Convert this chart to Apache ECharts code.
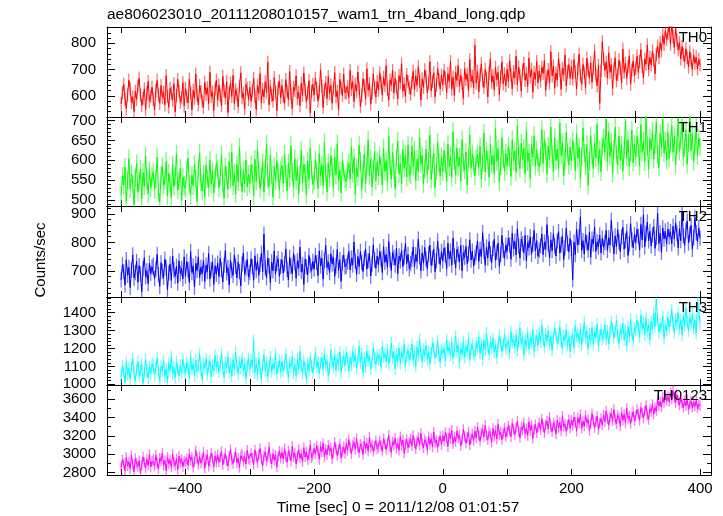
<!DOCTYPE html>
<html><head><meta charset="utf-8">
<script src="https://cdn.jsdelivr.net/npm/echarts@6/dist/echarts.min.js"></script>
<style>html,body{margin:0;padding:0;background:#fff}#c{width:723px;height:516px}</style>
</head><body><div id="c"></div>
<script>
// ---------------- DATA ----------------
const chartTitle = 'ae806023010_20111208010157_wam1_trn_4band_long.qdp';
const xTitle = 'Time [sec] 0 = 2011/12/08 01:01:57';
const yTitle = 'Counts/sec';
const bandNames = ['TH0', 'TH1', 'TH2', 'TH3', 'TH0123'];
const tStart = -500, tStep = 2;   // time bins (sec)

const th0 = [
570,612,645,589,552,603,660,628,575,596,541,618,587,637,668,604,563,590,627,549,611,655,580,598,633,
587,548,621,659,604,572,640,595,613,566,677,598,557,629,611,584,646,539,602,663,618,576,593,650,561,
629,597,574,664,612,548,621,590,683,603,566,639,617,580,556,652,606,631,571,690,598,615,545,627,660,
584,641,603,563,675,620,592,654,537,612,649,598,678,571,623,606,559,637,688,594,611,552,643,628,586,
632,580,619,667,598,548,641,609,685,574,625,596,654,613,728,566,637,602,581,670,615,544,629,657,593,
640,599,571,662,618,585,693,607,552,633,621,676,590,614,563,648,602,687,626,577,611,658,535,619,644,
603,667,628,581,614,699,636,556,622,651,590,674,609,641,572,628,689,597,618,548,663,630,601,683,612,
612,636,594,697,625,654,578,645,617,691,629,560,603,666,638,589,703,622,647,570,611,684,632,596,655,
622,688,651,603,671,639,715,626,584,660,643,697,612,668,634,589,677,650,722,618,646,598,681,655,630,
607,650,694,623,676,640,711,657,584,665,633,699,672,612,648,730,620,655,688,596,641,705,663,627,679,
642,697,668,613,685,654,731,626,671,602,690,659,716,637,679,648,591,704,663,683,620,738,656,675,632,
792,649,694,615,678,722,657,633,701,669,596,687,741,652,676,624,709,661,690,605,673,728,646,684,638,
701,655,734,680,627,693,668,751,642,710,676,619,698,725,659,687,636,744,671,702,614,689,663,731,650,
694,656,709,686,735,622,672,700,649,768,676,713,631,688,660,742,697,625,705,681,756,638,692,719,667,
712,664,738,691,626,703,759,677,645,720,688,631,744,699,668,726,652,705,771,680,639,716,572,695,806,
741,697,729,668,764,690,719,627,702,745,658,681,736,706,650,778,689,724,667,711,752,645,698,733,676,
706,752,689,731,776,712,668,740,721,793,699,747,718,770,736,684,759,790,745,803,771,832,796,848,815,
838,868,797,873,825,784,856,812,775,803,741,788,757,729,779,746,710,768,737,701,755,724,748,703,739,
718];

const th1 = [
512,561,538,583,497,549,604,527,566,541,489,556,592,520,547,578,503,569,535,611,548,515,574,531,558,
571,526,553,608,519,495,562,584,537,550,598,511,567,543,506,589,534,560,616,525,548,580,499,557,536,
529,574,605,541,512,563,536,590,552,497,578,619,545,524,566,508,587,553,531,601,540,572,518,556,593,
578,530,559,614,543,505,584,562,527,597,551,620,536,568,515,589,546,633,557,521,574,541,600,533,565,
540,589,566,511,603,547,628,573,529,558,595,520,579,641,551,534,612,562,507,585,548,599,569,526,574,
587,542,616,566,523,593,555,637,571,530,604,549,582,515,563,626,544,590,568,512,598,551,631,575,539,
548,601,572,529,617,560,589,536,645,567,520,594,556,612,581,531,608,563,642,546,575,518,599,570,553,
546,575,593,552,634,567,607,514,581,559,638,598,527,570,615,541,585,651,562,604,533,578,623,549,596,
561,612,583,538,631,572,599,547,660,587,553,620,576,529,606,648,566,592,541,627,580,614,558,639,569,
563,636,584,625,548,603,571,657,590,612,541,580,628,565,598,663,552,588,617,531,574,646,595,560,609,
571,624,592,546,640,583,611,557,672,599,563,631,585,609,548,652,594,576,621,538,605,664,580,617,589,
561,604,614,582,635,553,594,668,571,623,601,557,640,589,612,566,680,597,629,545,586,657,603,572,618,
586,635,607,559,652,598,624,570,687,611,579,643,602,631,566,674,596,618,553,639,608,662,585,627,593,
584,610,677,592,652,624,566,636,603,684,616,571,657,599,628,580,694,612,645,561,601,670,619,588,633,
597,650,621,574,667,605,633,553,609,681,618,586,640,537,598,662,612,579,645,606,690,590,627,571,636,
655,621,704,596,672,610,646,567,629,683,615,588,661,600,638,574,625,699,606,652,583,619,676,594,641,
607,661,632,586,690,620,648,596,711,637,578,655,626,673,603,640,695,614,582,667,631,703,618,650,600,
670,605,643,688,620,662,589,639,706,623,651,697,608,632,676,590,644,715,625,668,597,637,684,611,656,
633];

const th2 = [
668,721,697,650,739,684,712,641,703,756,675,694,733,660,718,689,627,708,746,679,700,655,727,691,714,
720,673,706,758,687,645,729,698,677,741,711,634,693,724,666,752,703,681,716,657,735,690,708,672,749,
681,733,704,659,768,694,716,643,726,701,749,676,712,690,737,663,720,697,761,671,705,730,652,718,688,
727,680,744,705,661,719,771,693,711,650,738,702,684,756,716,675,731,697,647,724,763,689,709,740,678,
694,742,715,667,753,701,733,684,722,762,696,829,711,676,745,718,658,731,700,770,688,726,743,681,715,
739,692,724,776,705,668,747,716,690,761,728,674,735,709,783,697,722,652,741,714,686,754,720,699,733,
706,754,729,683,770,717,745,671,737,789,712,731,694,760,724,748,680,718,775,701,739,663,728,756,714,
716,731,769,703,745,720,801,734,688,750,715,768,729,697,744,777,706,735,761,682,723,791,738,709,752,
721,768,742,694,785,730,757,712,803,739,701,764,746,720,779,690,752,735,771,715,748,796,726,758,707,
726,740,784,715,757,733,811,749,700,763,727,782,741,708,758,790,719,745,776,697,736,805,751,722,768,
734,781,756,708,797,742,770,720,815,752,711,776,759,731,790,700,764,747,786,725,758,809,738,769,717,
748,763,805,733,776,751,834,770,720,784,745,803,760,729,779,811,737,765,798,716,757,825,772,744,790,
768,815,791,741,832,777,804,756,848,787,745,812,795,763,826,735,799,781,820,758,793,842,770,806,751,
773,788,829,757,801,776,862,796,745,809,771,831,787,752,805,838,762,792,823,739,781,850,796,767,814,
780,669,801,757,846,791,818,890,772,806,759,829,798,773,837,748,811,794,855,768,802,784,826,763,815,
783,799,842,772,816,791,877,812,760,823,785,845,801,767,820,853,776,806,839,754,795,866,810,781,828,
799,846,822,773,863,808,897,784,831,871,805,839,788,826,855,779,817,902,796,833,765,851,812,840,794,
846,820,838,795,857,812,869,832,781,848,806,910,824,789,842,875,798,829,860,776,817,888,834,803,851,
815];

const th3 = [
1041,1103,1068,1012,1121,1057,1089,1030,1096,1144,1063,1019,1082,1127,1048,1075,1110,1004,1066,1139,1078,1035,1097,1058,1115,
1111,1052,1090,1148,1069,1021,1101,1076,1132,1044,1086,1010,1119,1073,1156,1059,1095,1037,1124,1081,1048,1107,1063,1140,1084,
1062,1121,1097,1038,1158,1083,1112,1049,1136,1071,1103,1167,1080,1027,1115,1092,1143,1056,1099,1130,1041,1108,1075,1162,1094,
1129,1070,1107,1174,1088,1039,1121,1094,1153,1065,1112,1046,1137,1083,1180,1101,1057,1126,1090,1149,1074,1115,1031,1104,1142,
1081,1135,1099,1243,1064,1118,1051,1146,1090,1028,1107,1163,1076,1124,1042,1101,1152,1070,1115,1087,1171,1058,1096,1133,1066,
1127,1074,1109,1172,1091,1040,1120,1097,1155,1062,1113,1049,1138,1085,1183,1104,1059,1131,1093,1027,1118,1077,1148,1101,1065,
1114,1176,1099,1126,1061,1118,1147,1083,1170,1109,1132,1046,1088,1191,1121,1096,1163,1078,1139,1111,1180,1067,1125,1154,1102,
1178,1139,1075,1151,1107,1184,1128,1165,1091,1136,1213,1120,1172,1063,1149,1098,1187,1131,1156,1084,1127,1203,1144,1110,1161,
1140,1164,1096,1209,1150,1172,1127,1194,1112,1157,1231,1144,1183,1085,1168,1132,1201,1116,1177,1149,1222,1104,1161,1190,1138,
1169,1225,1134,1186,1101,1208,1157,1250,1175,1128,1197,1160,1217,1139,1183,1114,1172,1230,1199,1146,1180,1241,1163,1121,1193,
1176,1199,1131,1248,1187,1206,1161,1231,1145,1193,1269,1180,1221,1119,1203,1167,1238,1150,1212,1184,1258,1139,1196,1227,1173,
1158,1230,1205,1263,1171,1224,1140,1247,1193,1288,1212,1166,1238,1199,1256,1178,1221,1149,1215,1270,1236,1184,1218,1279,1201,
1221,1244,1177,1294,1232,1253,1207,1277,1191,1239,1315,1226,1267,1165,1249,1213,1286,1196,1258,1230,1304,1184,1242,1273,1219,
1289,1235,1331,1255,1208,1281,1240,1299,1221,1264,1190,1257,1313,1280,1228,1261,1322,1243,1199,1273,1248,1306,1215,1266,1181,
1253,1277,1206,1326,1264,1285,1239,1309,1223,1271,1347,1258,1299,1197,1281,1245,1318,1227,1290,1262,1336,1216,1274,1305,1251,
1273,1333,1254,1297,1225,1290,1348,1313,1261,1294,1357,1276,1232,1306,1281,1340,1248,1299,1214,1322,1268,1366,1288,1241,1315,
1301,1356,1324,1265,1388,1312,1340,1277,1371,1296,1332,1249,1351,1309,1398,1322,1476,1360,1290,1337,1316,1379,1258,1327,1303,
1373,1321,1354,1418,1336,1290,1365,1341,1401,1307,1359,1275,1383,1329,1425,1348,1300,1374,1334,1392,1313,1358,1284,1478,1405,
1342];

const th0123 = [
2858,2937,2901,2822,2966,2874,2919,2843,2988,2890,2810,2952,2905,2867,2931,2796,2884,2972,2913,2851,2944,2879,2998,2862,2926,
2946,2871,2990,2903,2839,2958,2925,3011,2882,2934,2819,2967,2898,2941,2860,3004,2912,2876,2951,2833,2980,2907,2945,2866,2929,
2914,2950,2879,3006,2933,2969,2857,2921,3040,2961,2888,2976,2903,2947,3025,2849,2938,2997,2870,2926,3014,2955,2861,2983,2912,
2991,2917,2962,3033,2885,2949,3009,2931,2871,2978,3051,2940,2899,2967,3021,2908,2958,2856,2985,3003,2924,2973,2892,3044,2952,
2938,3012,2961,2889,3047,2974,2910,2996,3063,2944,2872,2983,3025,2927,2969,3078,2951,2896,3006,2935,2991,2864,2978,3035,2957,
3021,2949,3060,2977,2912,3038,2993,2926,3089,2966,3012,2895,2981,3049,2958,3003,2918,3072,2970,3026,2940,2997,3101,2962,2988,
3063,3003,3092,3043,2946,3085,3027,3119,2972,3054,2993,3098,3036,3070,2951,3017,3131,3058,2985,3046,3112,2962,3031,3079,3008,
3115,3041,3158,3074,3006,3097,3132,3052,3171,3068,3019,3109,3083,2998,3144,3061,3121,3034,3187,3076,3103,3029,3092,3149,3057,
3077,3146,3098,3031,3169,3112,3053,3128,3204,3089,3020,3137,3101,3176,3064,3118,3042,3191,3095,3153,3011,3109,3162,3071,3129,
3166,3088,3207,3122,3059,3145,3183,3101,3226,3116,3068,3159,3134,3045,3192,3108,3171,3079,3239,3127,3152,3073,3140,3198,3104,
3201,3143,3236,3178,3084,3228,3166,3262,3113,3190,3135,3251,3173,3206,3092,3160,3270,3197,3122,3182,3244,3101,3169,3219,3148,
3253,3176,3294,3208,3142,3229,3271,3188,3313,3202,3157,3247,3221,3130,3280,3194,3260,3165,3326,3213,3239,3160,3226,3287,3191,
3236,3310,3258,3189,3334,3272,3211,3287,3359,3249,3180,3296,3262,3341,3225,3279,3203,3352,3255,3318,3172,3268,3325,3232,3290,
3343,3266,3385,3298,3231,3319,3362,3277,3401,3292,3245,3337,3311,3220,3370,3284,3350,3253,3414,3303,3329,3248,3316,3378,3281,
3371,3312,3405,3348,3251,3398,3336,3432,3282,3358,3304,3423,3342,3376,3259,3329,3441,3367,3290,3352,3414,3268,3339,3390,3316,
3428,3351,3470,3383,3316,3404,3447,3362,3486,3377,3330,3422,3396,3305,3455,3369,3435,3338,3499,3388,3414,3333,3401,3463,3366,
3415,3488,3436,3369,3507,3449,3391,3472,3530,3425,3376,3494,3461,3541,3437,3506,3468,3592,3523,3571,3512,3618,3559,3641,3583,
3627,3572,3668,3601,3689,3615,3562,3646,3587,3534,3611,3559,3503,3582,3526,3594,3487,3548,3577,3509,3563,3522,3584,3498,3541,
3527];

const bandValues = [th0, th1, th2, th3, th0123];
const bandErrors = [25, 23, 27, 34, 56];          // typical 1-sigma error bar per band
const xTickLabels = [-400, -200, 0, 200, 400];
const yTickLabels = [
  [600, 700, 800],
  [500, 550, 600, 650, 700],
  [700, 800, 900],
  [1000, 1100, 1200, 1300, 1400],
  [2800, 3000, 3200, 3400, 3600]
];

// ---------------- LAYOUT / STYLE ----------------
const FONT = 'Liberation Sans';
const FS = 15;
const FS_TITLE = 15.5;
const plotLeft = 107, plotWidth = 604;
const panelTops = [27, 117, 206, 297, 385];
const panelHeights = [90, 89, 91, 88, 90];
const xRange = [-522, 417];
const yRanges = [[520, 862], [485, 709], [608, 928], [996, 1488], [2775, 3752]];
const yMinorStep = [20, 10, 20, 20, 100];
const xTickStep = 100;
const colors = ['#ff0000', '#00ff00', '#0000ff', '#00ffff', '#ff00ff'];

function steps(lo, hi, step) {
  const out = [];
  for (let v = Math.ceil(lo / step) * step; v <= hi + 1e-9; v += step) out.push(v);
  return out;
}
const xTicks = steps(xRange[0], xRange[1], xTickStep);

const grids = [], xAxes = [], yAxes = [], series = [], graphics = [];
const axLine = { show: true, onZero: false, lineStyle: { color: '#000', width: 1 } };
const tickStyle = { color: '#000', width: 1 };

bandValues.forEach((vals, i) => {
  grids.push({ left: plotLeft, width: plotWidth, top: panelTops[i], height: panelHeights[i], show: false });

  const xc = { type: 'value', gridIndex: i, min: xRange[0], max: xRange[1], splitLine: { show: false }, axisLine: axLine };
  xAxes.push(Object.assign({}, xc, {
    position: 'bottom',
    axisTick: { show: true, inside: true, length: 6, customValues: xTicks, lineStyle: tickStyle },
    axisLabel: { show: i === 4, customValues: xTickLabels, color: '#000', fontFamily: FONT, fontSize: FS, margin: 6,
      formatter: v => String(v).replace('-', '\u2212') }
  }));
  xAxes.push(Object.assign({}, xc, {
    position: 'top',
    axisTick: { show: true, inside: true, length: 6, customValues: xTicks, lineStyle: tickStyle },
    axisLabel: { show: false }
  }));

  const [ymin, ymax] = yRanges[i];
  const minor = steps(ymin, ymax, yMinorStep[i]);
  const yc = { type: 'value', gridIndex: i, min: ymin, max: ymax, splitLine: { show: false } };
  ['left', 'right'].forEach(pos => {
    yAxes.push(Object.assign({}, yc, {
      position: pos, axisLine: axLine,
      axisTick: { show: true, inside: true, length: 8, customValues: yTickLabels[i], lineStyle: tickStyle },
      axisLabel: { show: pos === 'left', customValues: yTickLabels[i], color: '#000', fontFamily: FONT, fontSize: FS, margin: 11,
        formatter: v => String(v) }
    }));
    yAxes.push(Object.assign({}, yc, {
      position: pos, axisLine: { show: false, onZero: false },
      axisTick: { show: true, inside: true, length: 4, customValues: minor, lineStyle: tickStyle },
      axisLabel: { show: false }
    }));
  });

  const pts = vals.map((v, k) => [tStart + k * tStep, v]);
  const err = bandErrors[i];
  const col = colors[i];
  series.push({
    type: 'custom', xAxisIndex: 2 * i, yAxisIndex: 4 * i, data: pts, clip: true, silent: true, z: 2,
    renderItem: (params, api) => {
      const x = api.value(0), y = api.value(1);
      const p1 = api.coord([x, y - err]);
      const p2 = api.coord([x, y + err]);
      return { type: 'line', shape: { x1: p1[0], y1: p1[1], x2: p2[0], y2: p2[1] },
               style: { stroke: col, lineWidth: 1.3, opacity: 0.55 } };
    }
  });
  series.push({
    type: 'line', xAxisIndex: 2 * i, yAxisIndex: 4 * i, data: pts, symbol: 'none', showSymbol: false,
    clip: true, silent: true, z: 3, sampling: null,
    lineStyle: { color: col, width: 1 }
  });

  graphics.push({ type: 'text', x: 707, y: panelTops[i] + 11, z: 100,
    style: { text: bandNames[i], fill: '#000', font: FS + 'px "' + FONT + '"', align: 'right', verticalAlign: 'middle',
             textAlign: 'right', textVerticalAlign: 'middle' } });
});

graphics.push({ type: 'text', x: plotLeft, y: 15, z: 100,
  style: { text: chartTitle, fill: '#000', font: FS_TITLE + 'px "' + FONT + '"', align: 'left', verticalAlign: 'middle',
           textAlign: 'left', textVerticalAlign: 'middle' } });
graphics.push({ type: 'text', x: 398, y: 508, z: 100,
  style: { text: xTitle, fill: '#000', font: FS_TITLE + 'px "' + FONT + '"', align: 'center', verticalAlign: 'middle',
           textAlign: 'center', textVerticalAlign: 'middle' } });
graphics.push({ type: 'text', x: 41, y: 260, rotation: Math.PI / 2, z: 100,
  style: { text: yTitle, fill: '#000', font: FS + 'px "' + FONT + '"', align: 'center', verticalAlign: 'middle',
           textAlign: 'center', textVerticalAlign: 'middle' } });

const chart = echarts.init(document.getElementById('c'), null, { renderer: 'canvas' });
chart.setOption({
  animation: false,
  backgroundColor: '#fff',
  grid: grids,
  xAxis: xAxes,
  yAxis: yAxes,
  series: series,
  graphic: graphics
});
</script>
</body></html>
